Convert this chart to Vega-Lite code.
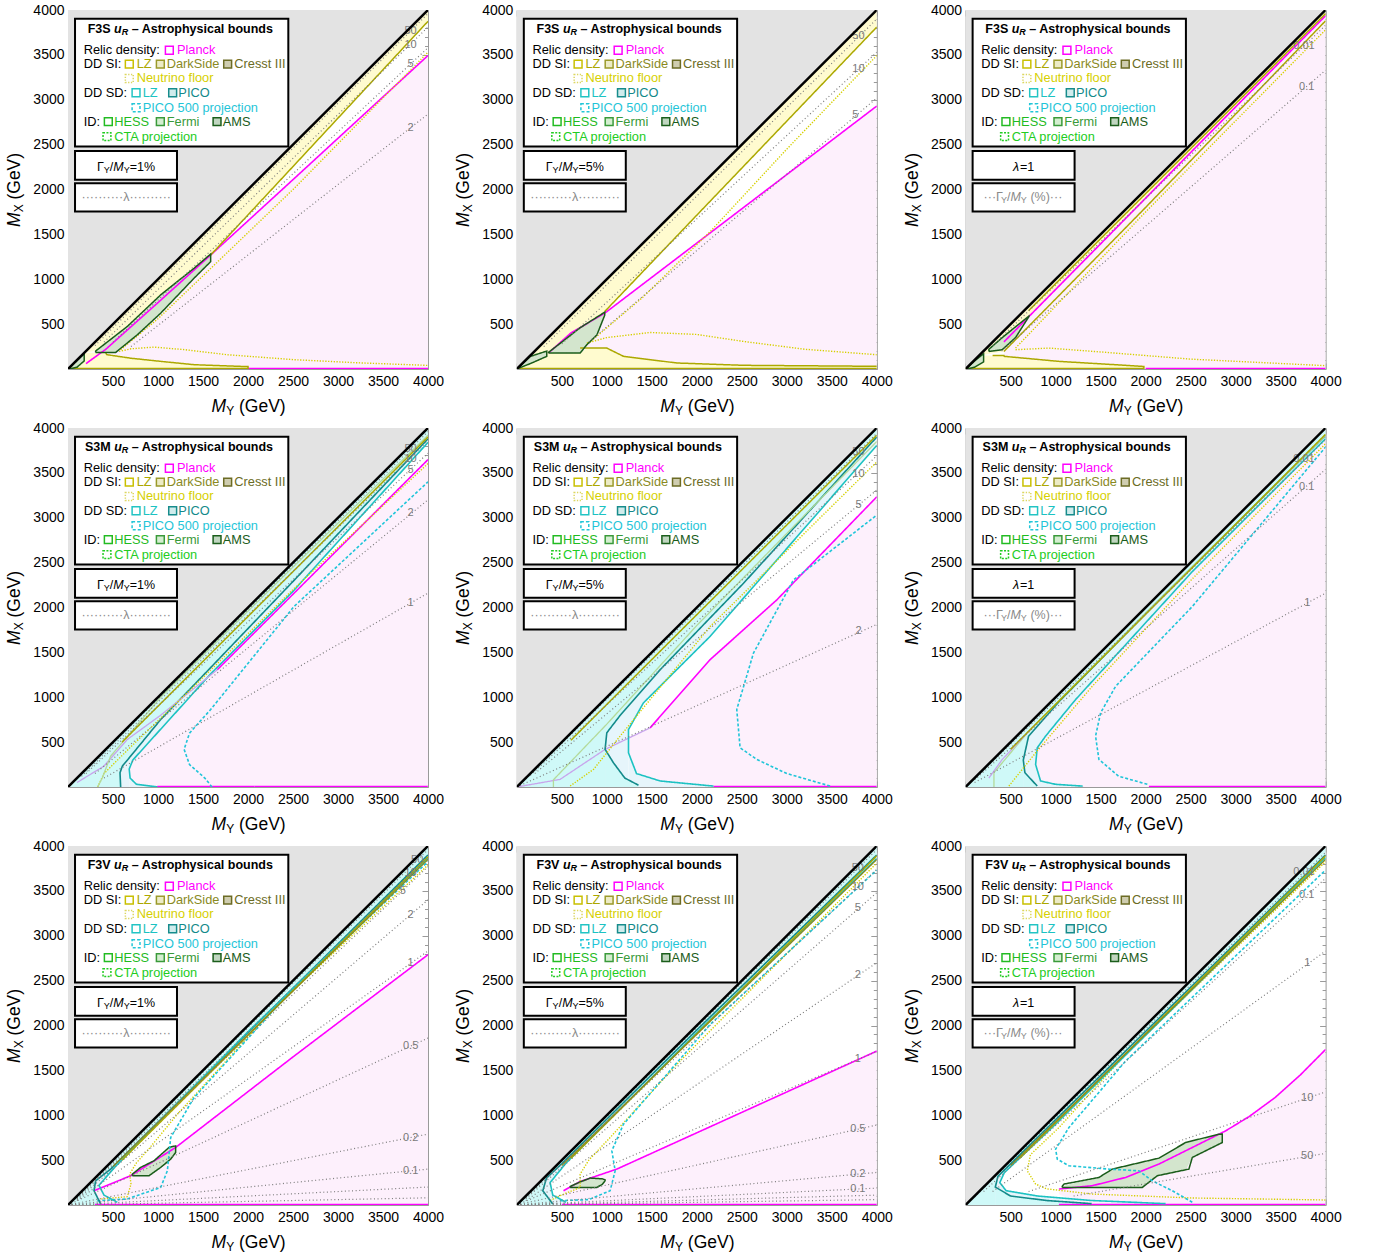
{
"$schema":"https://vega.github.io/schema/vega-lite/v6.json",
"background":"white",
"padding":{"left":5,"top":2,"right":10,"bottom":5},
"config":{"view":{"stroke":"#9a9a9a","strokeWidth":1},"mark":{"invalid":"filter"}},
"data":{"values":[
{"k":"tri","x":0,"p1":0,"p2":0,"p3":0,"p4":0,"p5":0,"p6":0,"p7":0,"p8":0,"p9":0},
{"k":"tri","x":4000,"p1":4000,"p2":4000,"p3":4000,"p4":4000,"p5":4000,"p6":4000,"p7":4000,"p8":4000,"p9":4000},
{"k":"box","x":78,"x2":2448,"lo":2478,"p1":3903,"p2":3903,"p3":3903,"p4":3903,"p5":3903,"p6":3903,"p7":3903,"p8":3903,"p9":3903},
{"k":"box","x":78,"x2":1211,"lo":2108,"p1":2430,"p2":2430,"p3":2430,"p4":2430,"p5":2430,"p6":2430,"p7":2430,"p8":2430,"p9":2430},
{"k":"box","x":78,"x2":1211,"lo":1756,"p1":2070,"p2":2070,"p3":2070,"p4":2070,"p5":2070,"p6":2070,"p7":2070,"p8":2070,"p9":2070},
{"k":"lt","t":"Relic density:","c":"blk","x":174,"p1":3552,"p2":3552,"p3":3552,"p4":3552,"p5":3552,"p6":3552,"p7":3552,"p8":3552,"p9":3552},
{"k":"lt","t":"Planck","c":"Planck","x":1211,"p1":3552,"p2":3552,"p3":3552,"p4":3552,"p5":3552,"p6":3552,"p7":3552,"p8":3552,"p9":3552},
{"k":"lt","t":"DD SI:","c":"blk","x":174,"p1":3397,"p2":3397,"p3":3397,"p4":3397,"p5":3397,"p6":3397,"p7":3397,"p8":3397,"p9":3397},
{"k":"lt","t":"LZ","c":"LZSI","x":763,"p1":3397,"p2":3397,"p3":3397,"p4":3397,"p5":3397,"p6":3397,"p7":3397,"p8":3397,"p9":3397},
{"k":"lt","t":"DarkSide","c":"DS","x":1097,"p1":3397,"p2":3397,"p3":3397,"p4":3397,"p5":3397,"p6":3397,"p7":3397,"p8":3397,"p9":3397},
{"k":"lt","t":"Cresst III","c":"CR","x":1848,"p1":3397,"p2":3397,"p3":3397,"p4":3397,"p5":3397,"p6":3397,"p7":3397,"p8":3397,"p9":3397},
{"k":"lt","t":"Neutrino floor","c":"NF","x":763,"p1":3237,"p2":3237,"p3":3237,"p4":3237,"p5":3237,"p6":3237,"p7":3237,"p8":3237,"p9":3237},
{"k":"lt","t":"DD SD:","c":"blk","x":174,"p1":3078,"p2":3078,"p3":3078,"p4":3078,"p5":3078,"p6":3078,"p7":3078,"p8":3078,"p9":3078},
{"k":"lt","t":"LZ","c":"LZSD","x":830,"p1":3078,"p2":3078,"p3":3078,"p4":3078,"p5":3078,"p6":3078,"p7":3078,"p8":3078,"p9":3078},
{"k":"lt","t":"PICO","c":"PICO","x":1226,"p1":3078,"p2":3078,"p3":3078,"p4":3078,"p5":3078,"p6":3078,"p7":3078,"p8":3078,"p9":3078},
{"k":"lt","t":"PICO 500 projection","c":"P500","x":830,"p1":2911,"p2":2911,"p3":2911,"p4":2911,"p5":2911,"p6":2911,"p7":2911,"p8":2911,"p9":2911},
{"k":"lt","t":"ID:","c":"blk","x":174,"p1":2756,"p2":2756,"p3":2756,"p4":2756,"p5":2756,"p6":2756,"p7":2756,"p8":2756,"p9":2756},
{"k":"lt","t":"HESS","c":"HESS","x":514,"p1":2756,"p2":2756,"p3":2756,"p4":2756,"p5":2756,"p6":2756,"p7":2756,"p8":2756,"p9":2756},
{"k":"lt","t":"Fermi","c":"Fermi","x":1097,"p1":2756,"p2":2756,"p3":2756,"p4":2756,"p5":2756,"p6":2756,"p7":2756,"p8":2756,"p9":2756},
{"k":"lt","t":"AMS","c":"AMS","x":1719,"p1":2756,"p2":2756,"p3":2756,"p4":2756,"p5":2756,"p6":2756,"p7":2756,"p8":2756,"p9":2756},
{"k":"lt","t":"CTA projection","c":"CTA","x":514,"p1":2589,"p2":2589,"p3":2589,"p4":2589,"p5":2589,"p6":2589,"p7":2589,"p8":2589,"p9":2589},
{"k":"lq","c":"Planck","x":1126,"p1":3552,"p2":3552,"p3":3552,"p4":3552,"p5":3552,"p6":3552,"p7":3552,"p8":3552,"p9":3552},
{"k":"lq","c":"LZSI","x":681,"p1":3397,"p2":3397,"p3":3397,"p4":3397,"p5":3397,"p6":3397,"p7":3397,"p8":3397,"p9":3397},
{"k":"lq","c":"DS","x":1026,"p1":3397,"p2":3397,"p3":3397,"p4":3397,"p5":3397,"p6":3397,"p7":3397,"p8":3397,"p9":3397},
{"k":"lq","c":"CR","x":1774,"p1":3397,"p2":3397,"p3":3397,"p4":3397,"p5":3397,"p6":3397,"p7":3397,"p8":3397,"p9":3397},
{"k":"lq","c":"NF","x":681,"p1":3237,"p2":3237,"p3":3237,"p4":3237,"p5":3237,"p6":3237,"p7":3237,"p8":3237,"p9":3237},
{"k":"lq","c":"LZSD","x":756,"p1":3078,"p2":3078,"p3":3078,"p4":3078,"p5":3078,"p6":3078,"p7":3078,"p8":3078,"p9":3078},
{"k":"lq","c":"PICO","x":1163,"p1":3078,"p2":3078,"p3":3078,"p4":3078,"p5":3078,"p6":3078,"p7":3078,"p8":3078,"p9":3078},
{"k":"lq","c":"P500","x":756,"p1":2911,"p2":2911,"p3":2911,"p4":2911,"p5":2911,"p6":2911,"p7":2911,"p8":2911,"p9":2911},
{"k":"lq","c":"HESS","x":448,"p1":2756,"p2":2756,"p3":2756,"p4":2756,"p5":2756,"p6":2756,"p7":2756,"p8":2756,"p9":2756},
{"k":"lq","c":"Fermi","x":1026,"p1":2756,"p2":2756,"p3":2756,"p4":2756,"p5":2756,"p6":2756,"p7":2756,"p8":2756,"p9":2756},
{"k":"lq","c":"AMS","x":1656,"p1":2756,"p2":2756,"p3":2756,"p4":2756,"p5":2756,"p6":2756,"p7":2756,"p8":2756,"p9":2756},
{"k":"lq","c":"CTA","x":433,"p1":2589,"p2":2589,"p3":2589,"p4":2589,"p5":2589,"p6":2589,"p7":2589,"p8":2589,"p9":2589},
{"f":"ai","t":"M","x":1594,"p1":-422,"p2":-422,"p3":-422,"p4":-422,"p5":-422,"p6":-422,"p7":-422,"p8":-422,"p9":-422},
{"f":"as","t":"Y","x":1757,"p1":-422,"p2":-422,"p3":-422,"p4":-422,"p5":-422,"p6":-422,"p7":-422,"p8":-422,"p9":-422},
{"f":"an","t":"(GeV)","x":1900,"p1":-422,"p2":-422,"p3":-422,"p4":-422,"p5":-422,"p6":-422,"p7":-422,"p8":-422,"p9":-422},
{"f":"yi","t":"M","x":-589,"p1":1583,"p2":1583,"p3":1583,"p4":1583,"p5":1583,"p6":1583,"p7":1583,"p8":1583,"p9":1583},
{"f":"ys","t":"X","x":-589,"p1":1746,"p2":1746,"p3":1746,"p4":1746,"p5":1746,"p6":1746,"p7":1746,"p8":1746,"p9":1746},
{"f":"yn","t":"(GeV)","x":-589,"p1":1888,"p2":1888,"p3":1888,"p4":1888,"p5":1888,"p6":1888,"p7":1888,"p8":1888,"p9":1888},
{"f":"b","t":"F3S","x":219,"p1":3792,"p2":3792,"p3":3792},
{"f":"bi","t":"u","x":512,"p1":3792,"p2":3792,"p3":3792},
{"f":"bs","t":"R","x":597,"p1":3792,"p2":3792,"p3":3792},
{"f":"b","t":"– Astrophysical bounds","x":708,"p1":3792,"p2":3792,"p3":3792},
{"f":"b","t":"S3M","x":189,"p4":3792,"p5":3792,"p6":3792},
{"f":"bi","t":"u","x":513,"p4":3792,"p5":3792,"p6":3792},
{"f":"bs","t":"R","x":598,"p4":3792,"p5":3792,"p6":3792},
{"f":"b","t":"– Astrophysical bounds","x":709,"p4":3792,"p5":3792,"p6":3792},
{"f":"b","t":"F3V","x":219,"p7":3792,"p8":3792,"p9":3792},
{"f":"bi","t":"u","x":512,"p7":3792,"p8":3792,"p9":3792},
{"f":"bs","t":"R","x":597,"p7":3792,"p8":3792,"p9":3792},
{"f":"b","t":"– Astrophysical bounds","x":708,"p7":3792,"p8":3792,"p9":3792},
{"f":"n","c":"blk","t":"Γ","x":321,"p1":2256,"p4":2256,"p7":2256,"p2":2256,"p5":2256,"p8":2256},
{"f":"s","c":"blk","t":"Y","x":398,"p1":2256,"p4":2256,"p7":2256,"p2":2256,"p5":2256,"p8":2256},
{"f":"n","c":"blk","t":"/","x":465,"p1":2256,"p4":2256,"p7":2256,"p2":2256,"p5":2256,"p8":2256},
{"f":"i","c":"blk","t":"M","x":504,"p1":2256,"p4":2256,"p7":2256,"p2":2256,"p5":2256,"p8":2256},
{"f":"s","c":"blk","t":"Y","x":619,"p1":2256,"p4":2256,"p7":2256,"p2":2256,"p5":2256,"p8":2256},
{"f":"n","c":"blk","t":"=1%","x":686,"p1":2256,"p4":2256,"p7":2256},
{"f":"n","c":"blk","t":"=5%","x":686,"p2":2256,"p5":2256,"p8":2256},
{"f":"n","c":"gry","t":"··········λ··········","x":150,"p1":1914,"p4":1914,"p7":1914,"p2":1914,"p5":1914,"p8":1914},
{"f":"i","c":"blk","t":"λ","x":527,"p3":2256,"p6":2256,"p9":2256},
{"f":"n","c":"blk","t":"=1","x":604,"p3":2256,"p6":2256,"p9":2256},
{"f":"n","c":"gry","t":"···Γ","x":200,"p3":1914,"p6":1914,"p9":1914},
{"f":"s","c":"gry","t":"Y","x":393,"p3":1914,"p6":1914,"p9":1914},
{"f":"n","c":"gry","t":"/","x":460,"p3":1914,"p6":1914,"p9":1914},
{"f":"i","c":"gry","t":"M","x":499,"p3":1914,"p6":1914,"p9":1914},
{"f":"s","c":"gry","t":"Y","x":614,"p3":1914,"p6":1914,"p9":1914},
{"f":"n","c":"gry","t":"(%)···","x":720,"p3":1914,"p6":1914,"p9":1914},

{"s":"Pink","g":"a","x":420,"p1":220,"lo":180},
{"s":"Pink","g":"a","x":700,"p1":454,"lo":120},
{"s":"Pink","g":"a","x":1030,"p1":758,"lo":85},
{"s":"Pink","g":"a","x":1400,"p1":1098,"lo":48},
{"s":"Pink","g":"a","x":1955,"p1":1609,"lo":28},
{"s":"Pink","g":"a","x":2000,"p1":1650,"lo":28},
{"s":"Pink","g":"a","x":2010,"p1":1659,"lo":0},
{"s":"Pink","g":"a","x":2500,"p1":2110,"lo":0},
{"s":"Pink","g":"a","x":4000,"p1":3493,"lo":0},
{"s":"Yel","g":"a","x":180,"p1":180,"lo":180},
{"s":"Yel","g":"a","x":300,"p1":300,"lo":200},
{"s":"Yel","g":"a","x":1000,"p1":1000,"lo":740},
{"s":"Yel","g":"a","x":1585,"p1":1585,"lo":1270},
{"s":"Yel","g":"a","x":2500,"p1":2500,"lo":2256},
{"s":"Yel","g":"a","x":4000,"p1":4000,"lo":3874},
{"s":"Yel","g":"b","x":0,"p1":0,"lo":0},
{"s":"Yel","g":"b","x":180,"p1":180,"lo":0},
{"s":"Yel","g":"b","x":420,"p1":180,"lo":0},
{"s":"Yel","g":"b","x":430,"p1":160,"lo":0},
{"s":"Yel","g":"b","x":700,"p1":120,"lo":0},
{"s":"Yel","g":"b","x":1030,"p1":85,"lo":0},
{"s":"Yel","g":"b","x":1400,"p1":48,"lo":0},
{"s":"Yel","g":"b","x":1955,"p1":28,"lo":0},
{"s":"Yel","g":"b","x":2000,"p1":28,"lo":0},
{"s":"Grn","g":"a","x":307,"p1":200,"lo":185},
{"s":"Grn","g":"a","x":530,"p1":380,"lo":185},
{"s":"Grn","g":"a","x":659,"p1":474,"lo":290},
{"s":"Grn","g":"a","x":770,"p1":560,"lo":381},
{"s":"Grn","g":"a","x":1030,"p1":826,"lo":622},
{"s":"Grn","g":"a","x":1400,"p1":1122,"lo":1011},
{"s":"Grn","g":"a","x":1585,"p1":1281,"lo":1196},
{"s":"Grn","g":"b","x":20,"p1":15,"lo":0},
{"s":"Grn","g":"b","x":100,"p1":95,"lo":20},
{"s":"Grn","g":"b","x":180,"p1":170,"lo":90},
{"k":"l","s":"Planck","g":"a","x":200,"p1":60},
{"k":"l","s":"Planck","g":"a","x":420,"p1":220},
{"k":"l","s":"Planck","g":"a","x":1000,"p1":740},
{"k":"l","s":"Planck","g":"a","x":1585,"p1":1270},
{"k":"l","s":"Planck","g":"a","x":2500,"p1":2110},
{"k":"l","s":"Planck","g":"a","x":4000,"p1":3493},
{"k":"l","s":"Planck","g":"b","x":2000,"p1":6},
{"k":"l","s":"Planck","g":"b","x":4000,"p1":6},
{"k":"l","s":"LZSI","g":"a","x":1585,"p1":1270},
{"k":"l","s":"LZSI","g":"a","x":2500,"p1":2256},
{"k":"l","s":"LZSI","g":"a","x":4000,"p1":3874},
{"k":"l","s":"LZSI","g":"b","x":420,"p1":180},
{"k":"l","s":"LZSI","g":"b","x":430,"p1":160},
{"k":"l","s":"LZSI","g":"b","x":700,"p1":120},
{"k":"l","s":"LZSI","g":"b","x":1030,"p1":85},
{"k":"l","s":"LZSI","g":"b","x":1400,"p1":48},
{"k":"l","s":"LZSI","g":"b","x":1955,"p1":28},
{"k":"l","s":"LZSI","g":"b","x":2000,"p1":28},
{"k":"l","s":"LZSI","g":"b","x":2000,"p1":0},
{"k":"l","s":"LZSI","g":"c","x":0,"p1":6},
{"k":"l","s":"LZSI","g":"c","x":2000,"p1":6},
{"k":"l","s":"NF","g":"a","x":585,"p1":215},
{"k":"l","s":"NF","g":"a","x":1000,"p1":560},
{"k":"l","s":"NF","g":"a","x":1585,"p1":1120},
{"k":"l","s":"NF","g":"a","x":2500,"p1":2000},
{"k":"l","s":"NF","g":"a","x":4000,"p1":3530},
{"k":"l","s":"NF","g":"b","x":567,"p1":196},
{"k":"l","s":"NF","g":"b","x":700,"p1":225},
{"k":"l","s":"NF","g":"b","x":955,"p1":244},
{"k":"l","s":"NF","g":"b","x":1300,"p1":215},
{"k":"l","s":"NF","g":"b","x":1770,"p1":159},
{"k":"l","s":"NF","g":"b","x":2511,"p1":104},
{"k":"l","s":"NF","g":"b","x":3200,"p1":70},
{"k":"l","s":"NF","g":"b","x":4000,"p1":40},
{"k":"l","s":"AMS","g":"a","x":307,"p1":185},
{"k":"l","s":"AMS","g":"a","x":530,"p1":185},
{"k":"l","s":"AMS","g":"a","x":770,"p1":381},
{"k":"l","s":"AMS","g":"a","x":1030,"p1":622},
{"k":"l","s":"AMS","g":"a","x":1400,"p1":1011},
{"k":"l","s":"AMS","g":"a","x":1585,"p1":1196},
{"k":"l","s":"AMS","g":"a","x":1585,"p1":1281},
{"k":"l","s":"AMS","g":"a","x":1400,"p1":1122},
{"k":"l","s":"AMS","g":"a","x":1030,"p1":826},
{"k":"l","s":"AMS","g":"a","x":659,"p1":474},
{"k":"l","s":"AMS","g":"a","x":307,"p1":200},
{"k":"l","s":"AMS","g":"a","x":307,"p1":185},
{"k":"l","s":"AMS","g":"b","x":20,"p1":0},
{"k":"l","s":"AMS","g":"b","x":100,"p1":20},
{"k":"l","s":"AMS","g":"b","x":180,"p1":90},
{"k":"l","s":"AMS","g":"b","x":180,"p1":170},
{"k":"l","s":"AMS","g":"b","x":100,"p1":95},
{"k":"l","s":"AMS","g":"b","x":20,"p1":15},
{"k":"l","s":"lam","g":"a","x":300,"p1":260},
{"k":"l","s":"lam","g":"a","x":4000,"p1":3960},
{"k":"l","s":"lam","g":"b","x":400,"p1":300},
{"k":"l","s":"lam","g":"b","x":4000,"p1":3810},
{"k":"l","s":"lam","g":"c","x":500,"p1":300},
{"k":"l","s":"lam","g":"c","x":4000,"p1":3580},
{"k":"l","s":"lam","g":"d","x":700,"p1":250},
{"k":"l","s":"lam","g":"d","x":4000,"p1":2840},
{"k":"t","t":"50","x":3807,"p1":3770},
{"k":"t","t":"10","x":3807,"p1":3611},
{"k":"t","t":"5","x":3807,"p1":3400},
{"k":"t","t":"2","x":3807,"p1":2685},

{"s":"Pink","g":"a","x":704,"p2":461,"lo":178},
{"s":"Pink","g":"a","x":780,"p2":506,"lo":233},
{"s":"Pink","g":"a","x":1000,"p2":640,"lo":233},
{"s":"Pink","g":"a","x":1186,"p2":782,"lo":141},
{"s":"Pink","g":"a","x":1780,"p2":1235,"lo":67},
{"s":"Pink","g":"a","x":2520,"p2":1800,"lo":41},
{"s":"Pink","g":"a","x":4000,"p2":2930,"lo":30},
{"s":"Yel","g":"a","x":0,"p2":0,"lo":0},
{"s":"Yel","g":"a","x":352,"p2":352,"lo":185},
{"s":"Yel","g":"a","x":977,"p2":977,"lo":640},
{"s":"Yel","g":"a","x":2000,"p2":2000,"lo":1714},
{"s":"Yel","g":"a","x":4000,"p2":4000,"lo":3810},
{"s":"Yel","g":"b","x":0,"p2":0,"lo":0},
{"s":"Yel","g":"b","x":178,"p2":178,"lo":0},
{"s":"Yel","g":"b","x":704,"p2":178,"lo":0},
{"s":"Yel","g":"b","x":780,"p2":233,"lo":0},
{"s":"Yel","g":"b","x":1000,"p2":233,"lo":0},
{"s":"Yel","g":"b","x":1186,"p2":141,"lo":0},
{"s":"Yel","g":"b","x":1780,"p2":67,"lo":0},
{"s":"Yel","g":"b","x":2520,"p2":41,"lo":0},
{"s":"Yel","g":"b","x":4000,"p2":30,"lo":0},
{"s":"Grn","g":"a","x":352,"p2":185,"lo":178},
{"s":"Grn","g":"a","x":500,"p2":300,"lo":178},
{"s":"Grn","g":"a","x":704,"p2":460,"lo":178},
{"s":"Grn","g":"a","x":778,"p2":520,"lo":270},
{"s":"Grn","g":"a","x":890,"p2":570,"lo":380},
{"s":"Grn","g":"a","x":977,"p2":633,"lo":600},
{"s":"Grn","g":"b","x":0,"p2":0,"lo":0},
{"s":"Grn","g":"b","x":150,"p2":140,"lo":60},
{"s":"Grn","g":"b","x":333,"p2":200,"lo":141},
{"k":"l","s":"Planck","g":"a","x":352,"p2":178},
{"k":"l","s":"Planck","g":"a","x":600,"p2":400},
{"k":"l","s":"Planck","g":"a","x":977,"p2":622},
{"k":"l","s":"Planck","g":"a","x":4000,"p2":2930},
{"k":"l","s":"LZSI","g":"a","x":977,"p2":640},
{"k":"l","s":"LZSI","g":"a","x":2000,"p2":1714},
{"k":"l","s":"LZSI","g":"a","x":4000,"p2":3810},
{"k":"l","s":"LZSI","g":"b","x":704,"p2":233},
{"k":"l","s":"LZSI","g":"b","x":1000,"p2":233},
{"k":"l","s":"LZSI","g":"b","x":1186,"p2":141},
{"k":"l","s":"LZSI","g":"b","x":1778,"p2":67},
{"k":"l","s":"LZSI","g":"b","x":2519,"p2":41},
{"k":"l","s":"LZSI","g":"b","x":4000,"p2":30},
{"k":"l","s":"LZSI","g":"c","x":0,"p2":6},
{"k":"l","s":"LZSI","g":"c","x":4000,"p2":6},
{"k":"l","s":"NF","g":"a","x":778,"p2":270},
{"k":"l","s":"NF","g":"a","x":1400,"p2":800},
{"k":"l","s":"NF","g":"a","x":2148,"p2":1530},
{"k":"l","s":"NF","g":"a","x":3000,"p2":2450},
{"k":"l","s":"NF","g":"a","x":4000,"p2":3493},
{"k":"l","s":"NF","g":"b","x":778,"p2":289},
{"k":"l","s":"NF","g":"b","x":1000,"p2":350},
{"k":"l","s":"NF","g":"b","x":1481,"p2":407},
{"k":"l","s":"NF","g":"b","x":2000,"p2":385},
{"k":"l","s":"NF","g":"b","x":2519,"p2":307},
{"k":"l","s":"NF","g":"b","x":3200,"p2":220},
{"k":"l","s":"NF","g":"b","x":4000,"p2":159},
{"k":"l","s":"AMS","g":"a","x":352,"p2":178},
{"k":"l","s":"AMS","g":"a","x":704,"p2":178},
{"k":"l","s":"AMS","g":"a","x":778,"p2":270},
{"k":"l","s":"AMS","g":"a","x":890,"p2":380},
{"k":"l","s":"AMS","g":"a","x":977,"p2":600},
{"k":"l","s":"AMS","g":"a","x":977,"p2":633},
{"k":"l","s":"AMS","g":"a","x":704,"p2":460},
{"k":"l","s":"AMS","g":"a","x":500,"p2":300},
{"k":"l","s":"AMS","g":"a","x":352,"p2":185},
{"k":"l","s":"AMS","g":"a","x":352,"p2":178},
{"k":"l","s":"AMS","g":"b","x":0,"p2":0},
{"k":"l","s":"AMS","g":"b","x":150,"p2":60},
{"k":"l","s":"AMS","g":"b","x":333,"p2":141},
{"k":"l","s":"AMS","g":"b","x":333,"p2":200},
{"k":"l","s":"AMS","g":"b","x":150,"p2":140},
{"k":"l","s":"AMS","g":"b","x":0,"p2":0},
{"k":"l","s":"lam","g":"a","x":300,"p2":250},
{"k":"l","s":"lam","g":"a","x":4000,"p2":3900},
{"k":"l","s":"lam","g":"b","x":500,"p2":280},
{"k":"l","s":"lam","g":"b","x":4000,"p2":3530},
{"k":"l","s":"lam","g":"c","x":800,"p2":300},
{"k":"l","s":"lam","g":"c","x":4000,"p2":3020},
{"k":"t","t":"50","x":3796,"p2":3715},
{"k":"t","t":"10","x":3796,"p2":3344},
{"k":"t","t":"5","x":3760,"p2":2826},

{"s":"Pink","g":"a","x":426,"p3":302,"lo":150},
{"s":"Pink","g":"a","x":600,"p3":480,"lo":110},
{"s":"Pink","g":"a","x":704,"p3":585,"lo":100},
{"s":"Pink","g":"a","x":1037,"p3":924,"lo":85},
{"s":"Pink","g":"a","x":1778,"p3":1678,"lo":41},
{"s":"Pink","g":"a","x":1981,"p3":1885,"lo":28},
{"s":"Pink","g":"a","x":1990,"p3":1894,"lo":0},
{"s":"Pink","g":"a","x":4000,"p3":3937,"lo":0},
{"s":"Yel","g":"a","x":0,"p3":0,"lo":0},
{"s":"Yel","g":"a","x":150,"p3":150,"lo":150},
{"s":"Yel","g":"a","x":426,"p3":426,"lo":196},
{"s":"Yel","g":"a","x":1000,"p3":1000,"lo":780},
{"s":"Yel","g":"a","x":2000,"p3":2000,"lo":1800},
{"s":"Yel","g":"a","x":4000,"p3":4000,"lo":3880},
{"s":"Yel","g":"b","x":0,"p3":0,"lo":0},
{"s":"Yel","g":"b","x":150,"p3":150,"lo":0},
{"s":"Yel","g":"b","x":426,"p3":150,"lo":0},
{"s":"Yel","g":"b","x":430,"p3":141,"lo":0},
{"s":"Yel","g":"b","x":1037,"p3":85,"lo":0},
{"s":"Yel","g":"b","x":1778,"p3":41,"lo":0},
{"s":"Yel","g":"b","x":1981,"p3":28,"lo":0},
{"s":"Grn","g":"a","x":259,"p3":220,"lo":196},
{"s":"Grn","g":"a","x":407,"p3":350,"lo":215},
{"s":"Grn","g":"a","x":555,"p3":470,"lo":350},
{"s":"Grn","g":"a","x":704,"p3":590,"lo":585},
{"s":"Grn","g":"b","x":20,"p3":15,"lo":0},
{"s":"Grn","g":"b","x":100,"p3":90,"lo":20},
{"s":"Grn","g":"b","x":200,"p3":170,"lo":80},
{"k":"l","s":"Planck","g":"a","x":426,"p3":302},
{"k":"l","s":"Planck","g":"a","x":704,"p3":585},
{"k":"l","s":"Planck","g":"a","x":2000,"p3":1903},
{"k":"l","s":"Planck","g":"a","x":4000,"p3":3937},
{"k":"l","s":"Planck","g":"b","x":2000,"p3":6},
{"k":"l","s":"Planck","g":"b","x":4000,"p3":6},
{"k":"l","s":"LZSI","g":"a","x":426,"p3":196},
{"k":"l","s":"LZSI","g":"a","x":1000,"p3":780},
{"k":"l","s":"LZSI","g":"a","x":2000,"p3":1800},
{"k":"l","s":"LZSI","g":"a","x":4000,"p3":3880},
{"k":"l","s":"LZSI","g":"b","x":300,"p3":150},
{"k":"l","s":"LZSI","g":"b","x":426,"p3":150},
{"k":"l","s":"LZSI","g":"b","x":430,"p3":141},
{"k":"l","s":"LZSI","g":"b","x":1037,"p3":85},
{"k":"l","s":"LZSI","g":"b","x":1778,"p3":41},
{"k":"l","s":"LZSI","g":"b","x":1981,"p3":28},
{"k":"l","s":"LZSI","g":"b","x":1981,"p3":0},
{"k":"l","s":"LZSI","g":"c","x":0,"p3":6},
{"k":"l","s":"LZSI","g":"c","x":1981,"p3":6},
{"k":"l","s":"LZSI","g":"d","x":700,"p3":650},
{"k":"l","s":"LZSI","g":"d","x":4000,"p3":3960},
{"k":"l","s":"NF","g":"a","x":555,"p3":233},
{"k":"l","s":"NF","g":"a","x":1000,"p3":700},
{"k":"l","s":"NF","g":"a","x":2000,"p3":1750},
{"k":"l","s":"NF","g":"a","x":4000,"p3":3780},
{"k":"l","s":"NF","g":"b","x":555,"p3":215},
{"k":"l","s":"NF","g":"b","x":926,"p3":233},
{"k":"l","s":"NF","g":"b","x":1500,"p3":190},
{"k":"l","s":"NF","g":"b","x":2500,"p3":110},
{"k":"l","s":"NF","g":"b","x":4000,"p3":37},
{"k":"l","s":"AMS","g":"a","x":259,"p3":196},
{"k":"l","s":"AMS","g":"a","x":407,"p3":215},
{"k":"l","s":"AMS","g":"a","x":555,"p3":350},
{"k":"l","s":"AMS","g":"a","x":704,"p3":585},
{"k":"l","s":"AMS","g":"a","x":704,"p3":590},
{"k":"l","s":"AMS","g":"a","x":555,"p3":470},
{"k":"l","s":"AMS","g":"a","x":407,"p3":350},
{"k":"l","s":"AMS","g":"a","x":259,"p3":220},
{"k":"l","s":"AMS","g":"a","x":259,"p3":196},
{"k":"l","s":"AMS","g":"b","x":20,"p3":0},
{"k":"l","s":"AMS","g":"b","x":100,"p3":20},
{"k":"l","s":"AMS","g":"b","x":200,"p3":80},
{"k":"l","s":"AMS","g":"b","x":200,"p3":170},
{"k":"l","s":"AMS","g":"b","x":100,"p3":90},
{"k":"l","s":"AMS","g":"b","x":20,"p3":15},
{"k":"l","s":"lam","g":"a","x":300,"p3":260},
{"k":"l","s":"lam","g":"a","x":4000,"p3":3830},
{"k":"l","s":"lam","g":"b","x":400,"p3":200},
{"k":"l","s":"lam","g":"b","x":4000,"p3":3330},
{"k":"t","t":"0.01","x":3760,"p3":3604},
{"k":"t","t":"0.1","x":3790,"p3":3141},

{"s":"CyB","g":"a","x":0,"p4":0,"lo":0},
{"s":"CyB","g":"a","x":680,"p4":680,"lo":0},
{"s":"CyB","g":"b","x":680,"p4":200,"lo":0},
{"s":"CyB","g":"b","x":690,"p4":100,"lo":0},
{"s":"CyB","g":"b","x":760,"p4":30,"lo":0},
{"s":"CyB","g":"b","x":1000,"p4":0,"lo":0},
{"s":"CyB","g":"c","x":680,"p4":680,"lo":200},
{"s":"CyB","g":"c","x":720,"p4":720,"lo":300},
{"s":"CyB","g":"c","x":900,"p4":900,"lo":500},
{"s":"CyB","g":"c","x":1585,"p4":1585,"lo":1260},
{"s":"CyB","g":"c","x":2500,"p4":2500,"lo":2180},
{"s":"CyB","g":"c","x":4000,"p4":4000,"lo":3840},
{"s":"Pink","g":"a","x":680,"p4":200,"lo":200},
{"s":"Pink","g":"a","x":700,"p4":250,"lo":90},
{"s":"Pink","g":"a","x":760,"p4":344,"lo":30},
{"s":"Pink","g":"a","x":900,"p4":500,"lo":8},
{"s":"Pink","g":"a","x":1000,"p4":611,"lo":0},
{"s":"Pink","g":"a","x":1585,"p4":1233,"lo":0},
{"s":"Pink","g":"a","x":1659,"p4":1307,"lo":0},
{"s":"Pink","g":"a","x":2500,"p4":2148,"lo":0},
{"s":"Pink","g":"a","x":4000,"p4":3648,"lo":0},
{"s":"CyA","g":"a","x":0,"p4":0,"lo":0},
{"s":"CyA","g":"a","x":590,"p4":590,"lo":0},
{"s":"CyA","g":"b","x":590,"p4":590,"lo":200},
{"s":"CyA","g":"b","x":604,"p4":604,"lo":233},
{"s":"CyA","g":"b","x":696,"p4":696,"lo":344},
{"s":"CyA","g":"b","x":1030,"p4":1030,"lo":752},
{"s":"CyA","g":"b","x":1585,"p4":1585,"lo":1330},
{"s":"CyA","g":"b","x":2500,"p4":2500,"lo":2290},
{"s":"CyA","g":"b","x":4000,"p4":4000,"lo":3880},
{"k":"l","s":"PICO","g":"a","x":585,"p4":0},
{"k":"l","s":"PICO","g":"a","x":578,"p4":159},
{"k":"l","s":"PICO","g":"a","x":604,"p4":233},
{"k":"l","s":"PICO","g":"a","x":696,"p4":344},
{"k":"l","s":"PICO","g":"a","x":1030,"p4":752},
{"k":"l","s":"PICO","g":"a","x":1585,"p4":1330},
{"k":"l","s":"PICO","g":"a","x":2500,"p4":2290},
{"k":"l","s":"PICO","g":"a","x":4000,"p4":3880},
{"k":"l","s":"LZSD","g":"a","x":1000,"p4":0},
{"k":"l","s":"LZSD","g":"a","x":760,"p4":30},
{"k":"l","s":"LZSD","g":"a","x":690,"p4":100},
{"k":"l","s":"LZSD","g":"a","x":680,"p4":200},
{"k":"l","s":"LZSD","g":"a","x":720,"p4":300},
{"k":"l","s":"LZSD","g":"a","x":900,"p4":500},
{"k":"l","s":"LZSD","g":"a","x":1585,"p4":1260},
{"k":"l","s":"LZSD","g":"a","x":2500,"p4":2180},
{"k":"l","s":"LZSD","g":"a","x":4000,"p4":3840},
{"k":"l","s":"Planck","g":"a","x":1659,"p4":1307},
{"k":"l","s":"Planck","g":"a","x":2500,"p4":2148},
{"k":"l","s":"Planck","g":"a","x":4000,"p4":3648},
{"k":"l","s":"PlanckL","g":"a","x":100,"p4":50},
{"k":"l","s":"PlanckL","g":"a","x":400,"p4":233},
{"k":"l","s":"PlanckL","g":"a","x":659,"p4":530},
{"k":"l","s":"PlanckL","g":"a","x":1030,"p4":800},
{"k":"l","s":"PlanckL","g":"a","x":1659,"p4":1307},
{"k":"l","s":"Planck","g":"b","x":993,"p4":6},
{"k":"l","s":"Planck","g":"b","x":4000,"p4":6},
{"k":"l","s":"P500","g":"a","x":1600,"p4":0},
{"k":"l","s":"P500","g":"a","x":1520,"p4":100},
{"k":"l","s":"P500","g":"a","x":1350,"p4":250},
{"k":"l","s":"P500","g":"a","x":1290,"p4":420},
{"k":"l","s":"P500","g":"a","x":1350,"p4":600},
{"k":"l","s":"P500","g":"a","x":1585,"p4":863},
{"k":"l","s":"P500","g":"a","x":2511,"p4":2011},
{"k":"l","s":"P500","g":"a","x":4000,"p4":3400},
{"k":"l","s":"NF","g":"a","x":330,"p4":0},
{"k":"l","s":"NF","g":"a","x":400,"p4":150},
{"k":"l","s":"NF","g":"a","x":700,"p4":450},
{"k":"l","s":"NF","g":"a","x":1400,"p4":1122},
{"k":"l","s":"NF","g":"a","x":2500,"p4":2200},
{"k":"l","s":"NF","g":"a","x":4000,"p4":3604},
{"k":"l","s":"FermiL","g":"a","x":330,"p4":0},
{"k":"l","s":"FermiL","g":"a","x":380,"p4":100},
{"k":"l","s":"FermiL","g":"a","x":474,"p4":344},
{"k":"l","s":"FermiL","g":"a","x":1030,"p4":1000},
{"k":"l","s":"FermiL","g":"a","x":2000,"p4":1960},
{"k":"l","s":"FermiL","g":"a","x":4000,"p4":3920},
{"k":"l","s":"LZSI","g":"a","x":600,"p4":500},
{"k":"l","s":"LZSI","g":"a","x":4000,"p4":3900},
{"k":"l","s":"lam","g":"a","x":100,"p4":90},
{"k":"l","s":"lam","g":"a","x":4000,"p4":3960},
{"k":"l","s":"lam","g":"b","x":150,"p4":120},
{"k":"l","s":"lam","g":"b","x":4000,"p4":3860},
{"k":"l","s":"lam","g":"c","x":200,"p4":150},
{"k":"l","s":"lam","g":"c","x":4000,"p4":3720},
{"k":"l","s":"lam","g":"d","x":300,"p4":150},
{"k":"l","s":"lam","g":"d","x":4000,"p4":3200},
{"k":"l","s":"lam","g":"e","x":400,"p4":100},
{"k":"l","s":"lam","g":"e","x":4000,"p4":2160},
{"k":"t","t":"50","x":3807,"p4":3770},
{"k":"t","t":"10","x":3807,"p4":3659},
{"k":"t","t":"5","x":3807,"p4":3530},
{"k":"t","t":"2","x":3807,"p4":3048},
{"k":"t","t":"1","x":3807,"p4":2048},

{"s":"CyB","g":"a","x":0,"p5":0,"lo":0},
{"s":"CyB","g":"a","x":1240,"p5":1240,"lo":0},
{"s":"CyB","g":"a","x":1241,"p5":1241,"lo":640},
{"s":"CyB","g":"a","x":1407,"p5":1407,"lo":937},
{"s":"CyB","g":"a","x":2148,"p5":2148,"lo":1678},
{"s":"CyB","g":"a","x":4000,"p5":4000,"lo":3807},
{"s":"CyB","g":"b","x":1241,"p5":381,"lo":0},
{"s":"CyB","g":"b","x":1330,"p5":150,"lo":0},
{"s":"CyB","g":"b","x":1593,"p5":67,"lo":0},
{"s":"CyB","g":"b","x":2185,"p5":10,"lo":0},
{"s":"Pink","g":"a","x":1241,"p5":544,"lo":400},
{"s":"Pink","g":"a","x":1330,"p5":588,"lo":150},
{"s":"Pink","g":"a","x":1481,"p5":659,"lo":90},
{"s":"Pink","g":"a","x":1593,"p5":787,"lo":67},
{"s":"Pink","g":"a","x":2148,"p5":1419,"lo":12},
{"s":"Pink","g":"a","x":2185,"p5":1450,"lo":0},
{"s":"Pink","g":"a","x":2889,"p5":2085,"lo":0},
{"s":"Pink","g":"a","x":4000,"p5":3233,"lo":0},
{"s":"CyA","g":"a","x":0,"p5":0,"lo":0},
{"s":"CyA","g":"a","x":981,"p5":981,"lo":0},
{"s":"CyA","g":"b","x":981,"p5":419,"lo":0},
{"s":"CyA","g":"b","x":1074,"p5":270,"lo":0},
{"s":"CyA","g":"b","x":1200,"p5":100,"lo":0},
{"s":"CyA","g":"b","x":1352,"p5":20,"lo":0},
{"s":"CyA","g":"c","x":981,"p5":981,"lo":419},
{"s":"CyA","g":"c","x":1000,"p5":1000,"lo":604},
{"s":"CyA","g":"c","x":1150,"p5":1150,"lo":800},
{"s":"CyA","g":"c","x":1593,"p5":1593,"lo":1307},
{"s":"CyA","g":"c","x":2519,"p5":2519,"lo":2270},
{"s":"CyA","g":"c","x":4000,"p5":4000,"lo":3900},
{"k":"l","s":"Planck","g":"a","x":1481,"p5":659},
{"k":"l","s":"Planck","g":"a","x":2148,"p5":1419},
{"k":"l","s":"Planck","g":"a","x":2889,"p5":2085},
{"k":"l","s":"Planck","g":"a","x":4000,"p5":3233},
{"k":"l","s":"PlanckL","g":"a","x":0,"p5":0},
{"k":"l","s":"PlanckL","g":"a","x":481,"p5":85},
{"k":"l","s":"PlanckL","g":"a","x":981,"p5":419},
{"k":"l","s":"PlanckL","g":"a","x":1481,"p5":659},
{"k":"l","s":"Planck","g":"b","x":2185,"p5":6},
{"k":"l","s":"Planck","g":"b","x":4000,"p5":6},
{"k":"l","s":"PICO","g":"a","x":1352,"p5":20},
{"k":"l","s":"PICO","g":"a","x":1200,"p5":100},
{"k":"l","s":"PICO","g":"a","x":1074,"p5":270},
{"k":"l","s":"PICO","g":"a","x":981,"p5":419},
{"k":"l","s":"PICO","g":"a","x":1000,"p5":604},
{"k":"l","s":"PICO","g":"a","x":1150,"p5":800},
{"k":"l","s":"PICO","g":"a","x":1593,"p5":1307},
{"k":"l","s":"PICO","g":"a","x":2519,"p5":2270},
{"k":"l","s":"PICO","g":"a","x":4000,"p5":3900},
{"k":"l","s":"LZSD","g":"a","x":2185,"p5":10},
{"k":"l","s":"LZSD","g":"a","x":1593,"p5":67},
{"k":"l","s":"LZSD","g":"a","x":1330,"p5":150},
{"k":"l","s":"LZSD","g":"a","x":1241,"p5":381},
{"k":"l","s":"LZSD","g":"a","x":1241,"p5":640},
{"k":"l","s":"LZSD","g":"a","x":1407,"p5":937},
{"k":"l","s":"LZSD","g":"a","x":2148,"p5":1678},
{"k":"l","s":"LZSD","g":"a","x":4000,"p5":3807},
{"k":"l","s":"P500","g":"a","x":3481,"p5":11},
{"k":"l","s":"P500","g":"a","x":3000,"p5":150},
{"k":"l","s":"P500","g":"a","x":2667,"p5":307},
{"k":"l","s":"P500","g":"a","x":2481,"p5":437},
{"k":"l","s":"P500","g":"a","x":2444,"p5":863},
{"k":"l","s":"P500","g":"a","x":2630,"p5":1493},
{"k":"l","s":"P500","g":"a","x":3074,"p5":2307},
{"k":"l","s":"P500","g":"a","x":4000,"p5":3030},
{"k":"l","s":"NF","g":"a","x":593,"p5":11},
{"k":"l","s":"NF","g":"a","x":852,"p5":196},
{"k":"l","s":"NF","g":"a","x":1148,"p5":567},
{"k":"l","s":"NF","g":"a","x":2148,"p5":1789},
{"k":"l","s":"NF","g":"a","x":4000,"p5":3622},
{"k":"l","s":"FermiL","g":"a","x":407,"p5":0},
{"k":"l","s":"FermiL","g":"a","x":407,"p5":80},
{"k":"l","s":"FermiL","g":"a","x":1000,"p5":700},
{"k":"l","s":"FermiL","g":"a","x":2000,"p5":1800},
{"k":"l","s":"FermiL","g":"a","x":4000,"p5":3850},
{"k":"l","s":"LZSI","g":"a","x":600,"p5":520},
{"k":"l","s":"LZSI","g":"a","x":4000,"p5":3920},
{"k":"l","s":"lam","g":"a","x":100,"p5":90},
{"k":"l","s":"lam","g":"a","x":4000,"p5":3940},
{"k":"l","s":"lam","g":"b","x":150,"p5":130},
{"k":"l","s":"lam","g":"b","x":4000,"p5":3690},
{"k":"l","s":"lam","g":"c","x":200,"p5":150},
{"k":"l","s":"lam","g":"c","x":4000,"p5":3310},
{"k":"l","s":"lam","g":"d","x":0,"p5":0},
{"k":"l","s":"lam","g":"d","x":4000,"p5":1812},
{"k":"t","t":"50","x":3796,"p5":3733},
{"k":"t","t":"10","x":3796,"p5":3493},
{"k":"t","t":"5","x":3796,"p5":3141},
{"k":"t","t":"2","x":3796,"p5":1733},

{"s":"CyB","g":"a","x":0,"p6":0,"lo":0},
{"s":"CyB","g":"a","x":778,"p6":778,"lo":0},
{"s":"CyB","g":"a","x":796,"p6":796,"lo":437},
{"s":"CyB","g":"a","x":889,"p6":889,"lo":567},
{"s":"CyB","g":"a","x":1222,"p6":1222,"lo":974},
{"s":"CyB","g":"a","x":2519,"p6":2519,"lo":2400},
{"s":"CyB","g":"a","x":4000,"p6":4000,"lo":3881},
{"s":"CyB","g":"b","x":778,"p6":250,"lo":0},
{"s":"CyB","g":"b","x":833,"p6":67,"lo":0},
{"s":"CyB","g":"b","x":1000,"p6":30,"lo":0},
{"s":"CyB","g":"b","x":1300,"p6":10,"lo":0},
{"s":"Pink","g":"a","x":778,"p6":250,"lo":250},
{"s":"Pink","g":"a","x":796,"p6":437,"lo":190},
{"s":"Pink","g":"a","x":833,"p6":489,"lo":67},
{"s":"Pink","g":"a","x":889,"p6":567,"lo":50},
{"s":"Pink","g":"a","x":1000,"p6":700,"lo":30},
{"s":"Pink","g":"a","x":1222,"p6":974,"lo":20},
{"s":"Pink","g":"a","x":1300,"p6":1070,"lo":10},
{"s":"Pink","g":"a","x":1310,"p6":1080,"lo":0},
{"s":"Pink","g":"a","x":2519,"p6":2400,"lo":0},
{"s":"Pink","g":"a","x":4000,"p6":3881,"lo":0},
{"s":"CyA","g":"a","x":0,"p6":0,"lo":0},
{"s":"CyA","g":"a","x":641,"p6":641,"lo":0},
{"s":"CyA","g":"b","x":641,"p6":300,"lo":0},
{"s":"CyA","g":"b","x":659,"p6":159,"lo":0},
{"s":"CyA","g":"b","x":796,"p6":11,"lo":0},
{"s":"CyA","g":"c","x":641,"p6":641,"lo":300},
{"s":"CyA","g":"c","x":700,"p6":700,"lo":567},
{"s":"CyA","g":"c","x":1037,"p6":1037,"lo":950},
{"s":"CyA","g":"c","x":2148,"p6":2148,"lo":2080},
{"s":"CyA","g":"c","x":4000,"p6":4000,"lo":3919},
{"k":"l","s":"PICO","g":"a","x":796,"p6":11},
{"k":"l","s":"PICO","g":"a","x":659,"p6":159},
{"k":"l","s":"PICO","g":"a","x":641,"p6":300},
{"k":"l","s":"PICO","g":"a","x":700,"p6":567},
{"k":"l","s":"PICO","g":"a","x":1037,"p6":950},
{"k":"l","s":"PICO","g":"a","x":2148,"p6":2080},
{"k":"l","s":"PICO","g":"a","x":4000,"p6":3919},
{"k":"l","s":"LZSD","g":"a","x":1300,"p6":10},
{"k":"l","s":"LZSD","g":"a","x":1000,"p6":30},
{"k":"l","s":"LZSD","g":"a","x":833,"p6":67},
{"k":"l","s":"LZSD","g":"a","x":778,"p6":250},
{"k":"l","s":"LZSD","g":"a","x":796,"p6":437},
{"k":"l","s":"LZSD","g":"a","x":889,"p6":567},
{"k":"l","s":"LZSD","g":"a","x":1222,"p6":974},
{"k":"l","s":"LZSD","g":"a","x":2519,"p6":2400},
{"k":"l","s":"LZSD","g":"a","x":4000,"p6":3881},
{"k":"l","s":"P500","g":"a","x":2019,"p6":30},
{"k":"l","s":"P500","g":"a","x":1700,"p6":120},
{"k":"l","s":"P500","g":"a","x":1481,"p6":307},
{"k":"l","s":"P500","g":"a","x":1444,"p6":567},
{"k":"l","s":"P500","g":"a","x":1500,"p6":826},
{"k":"l","s":"P500","g":"a","x":1667,"p6":1122},
{"k":"l","s":"P500","g":"a","x":2519,"p6":2011},
{"k":"l","s":"P500","g":"a","x":4000,"p6":3789},
{"k":"l","s":"NF","g":"a","x":481,"p6":11},
{"k":"l","s":"NF","g":"a","x":778,"p6":381},
{"k":"l","s":"NF","g":"a","x":1407,"p6":1122},
{"k":"l","s":"NF","g":"a","x":2500,"p6":2300},
{"k":"l","s":"NF","g":"a","x":4000,"p6":3826},
{"k":"l","s":"FermiL","g":"a","x":315,"p6":0},
{"k":"l","s":"FermiL","g":"a","x":315,"p6":159},
{"k":"l","s":"FermiL","g":"a","x":700,"p6":620},
{"k":"l","s":"FermiL","g":"a","x":2000,"p6":1940},
{"k":"l","s":"FermiL","g":"a","x":4000,"p6":3920},
{"k":"l","s":"PlanckL","g":"a","x":259,"p6":100},
{"k":"l","s":"PlanckL","g":"a","x":407,"p6":307},
{"k":"l","s":"PlanckL","g":"a","x":778,"p6":700},
{"k":"l","s":"Planck","g":"b","x":2037,"p6":6},
{"k":"l","s":"Planck","g":"b","x":4000,"p6":6},
{"k":"l","s":"LZSI","g":"a","x":500,"p6":420},
{"k":"l","s":"LZSI","g":"a","x":4000,"p6":3930},
{"k":"l","s":"lam","g":"a","x":100,"p6":90},
{"k":"l","s":"lam","g":"a","x":4000,"p6":3870},
{"k":"l","s":"lam","g":"b","x":100,"p6":80},
{"k":"l","s":"lam","g":"b","x":4000,"p6":3540},
{"k":"l","s":"lam","g":"c","x":100,"p6":50},
{"k":"l","s":"lam","g":"c","x":4000,"p6":2160},
{"k":"t","t":"0.01","x":3760,"p6":3659},
{"k":"t","t":"0.1","x":3790,"p6":3344},
{"k":"t","t":"1","x":3796,"p6":2048},

{"s":"CyB","g":"a","x":0,"p7":0,"lo":0},
{"s":"CyB","g":"a","x":344,"p7":344,"lo":0},
{"s":"CyB","g":"b","x":344,"p7":220,"lo":0},
{"s":"CyB","g":"b","x":400,"p7":110,"lo":0},
{"s":"CyB","g":"b","x":548,"p7":30,"lo":0},
{"s":"CyB","g":"c","x":344,"p7":344,"lo":220},
{"s":"CyB","g":"c","x":519,"p7":519,"lo":420},
{"s":"CyB","g":"c","x":2000,"p7":2000,"lo":1930},
{"s":"CyB","g":"c","x":4000,"p7":4000,"lo":3863},
{"s":"Pink","g":"a","x":289,"p7":159,"lo":100},
{"s":"Pink","g":"a","x":400,"p7":205,"lo":0},
{"s":"Pink","g":"a","x":696,"p7":326,"lo":0},
{"s":"Pink","g":"a","x":1196,"p7":641,"lo":0},
{"s":"Pink","g":"a","x":2500,"p7":1650,"lo":0},
{"s":"Pink","g":"a","x":4000,"p7":2789,"lo":0},
{"s":"CyA","g":"a","x":0,"p7":0,"lo":0},
{"s":"CyA","g":"a","x":289,"p7":289,"lo":0},
{"s":"CyA","g":"b","x":289,"p7":159,"lo":0},
{"s":"CyA","g":"b","x":363,"p7":11,"lo":0},
{"s":"CyA","g":"c","x":289,"p7":289,"lo":159},
{"s":"CyA","g":"c","x":307,"p7":307,"lo":270},
{"s":"CyA","g":"c","x":474,"p7":474,"lo":400},
{"s":"CyA","g":"c","x":2141,"p7":2141,"lo":2060},
{"s":"CyA","g":"c","x":4000,"p7":4000,"lo":3900},
{"s":"Grn","g":"a","x":715,"p7":344,"lo":326},
{"s":"Grn","g":"a","x":807,"p7":419,"lo":326},
{"s":"Grn","g":"a","x":900,"p7":460,"lo":326},
{"s":"Grn","g":"a","x":956,"p7":493,"lo":370},
{"s":"Grn","g":"a","x":1030,"p7":540,"lo":419},
{"s":"Grn","g":"a","x":1122,"p7":641,"lo":480},
{"s":"Grn","g":"a","x":1141,"p7":645,"lo":511},
{"s":"Grn","g":"a","x":1196,"p7":659,"lo":585},
{"k":"l","s":"Planck","g":"a","x":289,"p7":159},
{"k":"l","s":"Planck","g":"a","x":696,"p7":326},
{"k":"l","s":"Planck","g":"a","x":1196,"p7":641},
{"k":"l","s":"Planck","g":"a","x":2500,"p7":1650},
{"k":"l","s":"Planck","g":"a","x":4000,"p7":2789},
{"k":"l","s":"Planck","g":"b","x":300,"p7":6},
{"k":"l","s":"Planck","g":"b","x":4000,"p7":6},
{"k":"l","s":"AMS","g":"a","x":715,"p7":326},
{"k":"l","s":"AMS","g":"a","x":900,"p7":326},
{"k":"l","s":"AMS","g":"a","x":1030,"p7":419},
{"k":"l","s":"AMS","g":"a","x":1141,"p7":511},
{"k":"l","s":"AMS","g":"a","x":1196,"p7":585},
{"k":"l","s":"AMS","g":"a","x":1196,"p7":659},
{"k":"l","s":"AMS","g":"a","x":1122,"p7":641},
{"k":"l","s":"AMS","g":"a","x":956,"p7":493},
{"k":"l","s":"AMS","g":"a","x":807,"p7":419},
{"k":"l","s":"AMS","g":"a","x":715,"p7":344},
{"k":"l","s":"AMS","g":"a","x":715,"p7":326},
{"k":"l","s":"NF","g":"a","x":370,"p7":67},
{"k":"l","s":"NF","g":"a","x":659,"p7":93},
{"k":"l","s":"NF","g":"a","x":700,"p7":233},
{"k":"l","s":"NF","g":"a","x":685,"p7":344},
{"k":"l","s":"NF","g":"a","x":760,"p7":470},
{"k":"l","s":"NF","g":"a","x":881,"p7":604},
{"k":"l","s":"NF","g":"a","x":1215,"p7":1011},
{"k":"l","s":"NF","g":"a","x":2300,"p7":2200},
{"k":"l","s":"NF","g":"a","x":4000,"p7":3789},
{"k":"l","s":"P500","g":"a","x":326,"p7":48},
{"k":"l","s":"P500","g":"a","x":659,"p7":67},
{"k":"l","s":"P500","g":"a","x":1030,"p7":196},
{"k":"l","s":"P500","g":"a","x":1104,"p7":381},
{"k":"l","s":"P500","g":"a","x":1141,"p7":752},
{"k":"l","s":"P500","g":"a","x":1400,"p7":1196},
{"k":"l","s":"P500","g":"a","x":2511,"p7":2419},
{"k":"l","s":"P500","g":"a","x":4000,"p7":3826},
{"k":"l","s":"PICO","g":"a","x":363,"p7":11},
{"k":"l","s":"PICO","g":"a","x":289,"p7":159},
{"k":"l","s":"PICO","g":"a","x":307,"p7":270},
{"k":"l","s":"PICO","g":"a","x":474,"p7":400},
{"k":"l","s":"PICO","g":"a","x":2141,"p7":2060},
{"k":"l","s":"PICO","g":"a","x":4000,"p7":3900},
{"k":"l","s":"LZSD","g":"a","x":548,"p7":30},
{"k":"l","s":"LZSD","g":"a","x":400,"p7":110},
{"k":"l","s":"LZSD","g":"a","x":344,"p7":220},
{"k":"l","s":"LZSD","g":"a","x":519,"p7":420},
{"k":"l","s":"LZSD","g":"a","x":2000,"p7":1930},
{"k":"l","s":"LZSD","g":"a","x":4000,"p7":3863},
{"k":"l","s":"LZSI","g":"a","x":600,"p7":500},
{"k":"l","s":"LZSI","g":"a","x":4000,"p7":3880},
{"k":"l","s":"DS","g":"a","x":500,"p7":430},
{"k":"l","s":"DS","g":"a","x":4000,"p7":3850},
{"k":"l","s":"lam","g":"a","x":100,"p7":95},
{"k":"l","s":"lam","g":"a","x":4000,"p7":3960},
{"k":"l","s":"lam","g":"b","x":100,"p7":80},
{"k":"l","s":"lam","g":"b","x":4000,"p7":3880},
{"k":"l","s":"lam","g":"c","x":100,"p7":70},
{"k":"l","s":"lam","g":"c","x":4000,"p7":3770},
{"k":"l","s":"lam","g":"d","x":100,"p7":60},
{"k":"l","s":"lam","g":"d","x":4000,"p7":3400},
{"k":"l","s":"lam","g":"e","x":100,"p7":50},
{"k":"l","s":"lam","g":"e","x":4000,"p7":2830},
{"k":"l","s":"lam","g":"f","x":0,"p7":0},
{"k":"l","s":"lam","g":"f","x":4000,"p7":1860},
{"k":"l","s":"lam","g":"g","x":0,"p7":0},
{"k":"l","s":"lam","g":"g","x":4000,"p7":790},
{"k":"l","s":"lam","g":"h","x":0,"p7":0},
{"k":"l","s":"lam","g":"h","x":4000,"p7":400},
{"k":"l","s":"lam","g":"i","x":0,"p7":0},
{"k":"l","s":"lam","g":"i","x":4000,"p7":200},
{"k":"l","s":"lam","g":"j","x":0,"p7":0},
{"k":"l","s":"lam","g":"j","x":4000,"p7":80},
{"k":"t","t":"50","x":3880,"p7":3841},
{"k":"t","t":"10","x":3807,"p7":3696},
{"k":"t","t":"5","x":3720,"p7":3504},
{"k":"t","t":"2","x":3807,"p7":3233},
{"k":"t","t":"1","x":3807,"p7":2696},
{"k":"t","t":"0.5","x":3807,"p7":1770},
{"k":"t","t":"0.2","x":3807,"p7":752},
{"k":"t","t":"0.1","x":3807,"p7":381},

{"s":"CyB","g":"a","x":0,"p8":0,"lo":0},
{"s":"CyB","g":"a","x":370,"p8":370,"lo":0},
{"s":"CyB","g":"b","x":370,"p8":250,"lo":0},
{"s":"CyB","g":"b","x":400,"p8":110,"lo":0},
{"s":"CyB","g":"b","x":548,"p8":30,"lo":0},
{"s":"CyB","g":"c","x":370,"p8":370,"lo":250},
{"s":"CyB","g":"c","x":550,"p8":550,"lo":470},
{"s":"CyB","g":"c","x":2000,"p8":2000,"lo":1920},
{"s":"CyB","g":"c","x":4000,"p8":4000,"lo":3860},
{"s":"Pink","g":"a","x":519,"p8":159,"lo":100},
{"s":"Pink","g":"a","x":600,"p8":200,"lo":50},
{"s":"Pink","g":"a","x":700,"p8":260,"lo":20},
{"s":"Pink","g":"a","x":800,"p8":300,"lo":0},
{"s":"Pink","g":"a","x":1111,"p8":400,"lo":0},
{"s":"Pink","g":"a","x":2500,"p8":1032,"lo":0},
{"s":"Pink","g":"a","x":4000,"p8":1715,"lo":0},
{"s":"CyA","g":"a","x":0,"p8":0,"lo":0},
{"s":"CyA","g":"a","x":289,"p8":289,"lo":0},
{"s":"CyA","g":"b","x":289,"p8":159,"lo":0},
{"s":"CyA","g":"b","x":400,"p8":11,"lo":0},
{"s":"CyA","g":"c","x":289,"p8":289,"lo":159},
{"s":"CyA","g":"c","x":330,"p8":330,"lo":300},
{"s":"CyA","g":"c","x":500,"p8":500,"lo":460},
{"s":"CyA","g":"c","x":2000,"p8":2000,"lo":1950},
{"s":"CyA","g":"c","x":4000,"p8":4000,"lo":3900},
{"s":"Grn","g":"a","x":593,"p8":207,"lo":196},
{"s":"Grn","g":"a","x":700,"p8":255,"lo":196},
{"s":"Grn","g":"a","x":815,"p8":300,"lo":196},
{"s":"Grn","g":"a","x":889,"p8":300,"lo":196},
{"s":"Grn","g":"a","x":950,"p8":292,"lo":230},
{"s":"Grn","g":"a","x":981,"p8":280,"lo":270},
{"k":"l","s":"Planck","g":"a","x":519,"p8":159},
{"k":"l","s":"Planck","g":"a","x":700,"p8":260},
{"k":"l","s":"Planck","g":"a","x":1111,"p8":400},
{"k":"l","s":"Planck","g":"a","x":2500,"p8":1032},
{"k":"l","s":"Planck","g":"a","x":4000,"p8":1715},
{"k":"l","s":"Planck","g":"b","x":500,"p8":6},
{"k":"l","s":"Planck","g":"b","x":4000,"p8":6},
{"k":"l","s":"AMS","g":"a","x":593,"p8":196},
{"k":"l","s":"AMS","g":"a","x":889,"p8":196},
{"k":"l","s":"AMS","g":"a","x":950,"p8":230},
{"k":"l","s":"AMS","g":"a","x":981,"p8":270},
{"k":"l","s":"AMS","g":"a","x":981,"p8":280},
{"k":"l","s":"AMS","g":"a","x":950,"p8":292},
{"k":"l","s":"AMS","g":"a","x":815,"p8":300},
{"k":"l","s":"AMS","g":"a","x":700,"p8":255},
{"k":"l","s":"AMS","g":"a","x":593,"p8":207},
{"k":"l","s":"AMS","g":"a","x":593,"p8":196},
{"k":"l","s":"NF","g":"a","x":370,"p8":50},
{"k":"l","s":"NF","g":"a","x":481,"p8":104},
{"k":"l","s":"NF","g":"a","x":704,"p8":196},
{"k":"l","s":"NF","g":"a","x":704,"p8":344},
{"k":"l","s":"NF","g":"a","x":800,"p8":500},
{"k":"l","s":"NF","g":"a","x":1037,"p8":752},
{"k":"l","s":"NF","g":"a","x":1778,"p8":1567},
{"k":"l","s":"NF","g":"a","x":4000,"p8":3810},
{"k":"l","s":"P500","g":"a","x":481,"p8":48},
{"k":"l","s":"P500","g":"a","x":800,"p8":60},
{"k":"l","s":"P500","g":"a","x":1037,"p8":159},
{"k":"l","s":"P500","g":"a","x":1093,"p8":381},
{"k":"l","s":"P500","g":"a","x":1056,"p8":604},
{"k":"l","s":"P500","g":"a","x":1185,"p8":900},
{"k":"l","s":"P500","g":"a","x":2148,"p8":2011},
{"k":"l","s":"P500","g":"a","x":4000,"p8":3733},
{"k":"l","s":"PICO","g":"a","x":400,"p8":11},
{"k":"l","s":"PICO","g":"a","x":289,"p8":159},
{"k":"l","s":"PICO","g":"a","x":330,"p8":300},
{"k":"l","s":"PICO","g":"a","x":500,"p8":460},
{"k":"l","s":"PICO","g":"a","x":2000,"p8":1950},
{"k":"l","s":"PICO","g":"a","x":4000,"p8":3900},
{"k":"l","s":"LZSD","g":"a","x":548,"p8":30},
{"k":"l","s":"LZSD","g":"a","x":400,"p8":110},
{"k":"l","s":"LZSD","g":"a","x":370,"p8":250},
{"k":"l","s":"LZSD","g":"a","x":550,"p8":470},
{"k":"l","s":"LZSD","g":"a","x":2000,"p8":1920},
{"k":"l","s":"LZSD","g":"a","x":4000,"p8":3860},
{"k":"l","s":"LZSI","g":"a","x":600,"p8":520},
{"k":"l","s":"LZSI","g":"a","x":4000,"p8":3890},
{"k":"l","s":"DS","g":"a","x":500,"p8":440},
{"k":"l","s":"DS","g":"a","x":4000,"p8":3850},
{"k":"l","s":"lam","g":"a","x":100,"p8":95},
{"k":"l","s":"lam","g":"a","x":4000,"p8":3960},
{"k":"l","s":"lam","g":"b","x":100,"p8":80},
{"k":"l","s":"lam","g":"b","x":4000,"p8":3740},
{"k":"l","s":"lam","g":"c","x":100,"p8":70},
{"k":"l","s":"lam","g":"c","x":4000,"p8":3480},
{"k":"l","s":"lam","g":"d","x":100,"p8":50},
{"k":"l","s":"lam","g":"d","x":4000,"p8":2700},
{"k":"l","s":"lam","g":"e","x":0,"p8":0},
{"k":"l","s":"lam","g":"e","x":4000,"p8":1712},
{"k":"l","s":"lam","g":"f","x":0,"p8":0},
{"k":"l","s":"lam","g":"f","x":4000,"p8":891},
{"k":"l","s":"lam","g":"g","x":0,"p8":0},
{"k":"l","s":"lam","g":"g","x":4000,"p8":363},
{"k":"l","s":"lam","g":"h","x":0,"p8":0},
{"k":"l","s":"lam","g":"h","x":4000,"p8":188},
{"k":"l","s":"lam","g":"i","x":0,"p8":0},
{"k":"l","s":"lam","g":"i","x":4000,"p8":110},
{"k":"l","s":"lam","g":"j","x":0,"p8":0},
{"k":"l","s":"lam","g":"j","x":4000,"p8":60},
{"k":"t","t":"50","x":3789,"p8":3752},
{"k":"t","t":"10","x":3789,"p8":3548},
{"k":"t","t":"5","x":3789,"p8":3307},
{"k":"t","t":"2","x":3789,"p8":2567},
{"k":"t","t":"1","x":3789,"p8":1622},
{"k":"t","t":"0.5","x":3789,"p8":844},
{"k":"t","t":"0.2","x":3789,"p8":344},
{"k":"t","t":"0.1","x":3789,"p8":178},

{"s":"CyB","g":"a","x":0,"p9":0,"lo":0},
{"s":"CyB","g":"a","x":380,"p9":380,"lo":0},
{"s":"CyB","g":"b","x":380,"p9":250,"lo":0},
{"s":"CyB","g":"b","x":450,"p9":160,"lo":0},
{"s":"CyB","g":"b","x":800,"p9":100,"lo":0},
{"s":"CyB","g":"b","x":1400,"p9":50,"lo":0},
{"s":"CyB","g":"b","x":2222,"p9":15,"lo":0},
{"s":"CyB","g":"c","x":380,"p9":380,"lo":250},
{"s":"CyB","g":"c","x":430,"p9":430,"lo":360},
{"s":"CyB","g":"c","x":1000,"p9":1000,"lo":900},
{"s":"CyB","g":"c","x":4000,"p9":4000,"lo":3870},
{"s":"Pink","g":"a","x":1037,"p9":178,"lo":120},
{"s":"Pink","g":"a","x":1200,"p9":190,"lo":50},
{"s":"Pink","g":"a","x":1407,"p9":215,"lo":20},
{"s":"Pink","g":"a","x":1778,"p9":307,"lo":10},
{"s":"Pink","g":"a","x":2148,"p9":456,"lo":0},
{"s":"Pink","g":"a","x":2519,"p9":641,"lo":0},
{"s":"Pink","g":"a","x":2889,"p9":826,"lo":0},
{"s":"Pink","g":"a","x":3150,"p9":985,"lo":0},
{"s":"Pink","g":"a","x":3437,"p9":1196,"lo":0},
{"s":"Pink","g":"a","x":3720,"p9":1450,"lo":0},
{"s":"Pink","g":"a","x":4000,"p9":1733,"lo":0},
{"s":"CyA","g":"a","x":0,"p9":0,"lo":0},
{"s":"CyA","g":"a","x":330,"p9":330,"lo":0},
{"s":"CyA","g":"b","x":330,"p9":200,"lo":0},
{"s":"CyA","g":"b","x":500,"p9":100,"lo":0},
{"s":"CyA","g":"b","x":900,"p9":50,"lo":0},
{"s":"CyA","g":"b","x":1400,"p9":15,"lo":0},
{"s":"CyA","g":"c","x":330,"p9":330,"lo":200},
{"s":"CyA","g":"c","x":360,"p9":360,"lo":320},
{"s":"CyA","g":"c","x":1000,"p9":1000,"lo":950},
{"s":"CyA","g":"c","x":4000,"p9":4000,"lo":3900},
{"s":"Grn","g":"a","x":1074,"p9":210,"lo":196},
{"s":"Grn","g":"a","x":1300,"p9":270,"lo":196},
{"s":"Grn","g":"a","x":1481,"p9":307,"lo":196},
{"s":"Grn","g":"a","x":1630,"p9":400,"lo":196},
{"s":"Grn","g":"a","x":1963,"p9":480,"lo":196},
{"s":"Grn","g":"a","x":2148,"p9":522,"lo":326},
{"s":"Grn","g":"a","x":2444,"p9":696,"lo":390},
{"s":"Grn","g":"a","x":2519,"p9":720,"lo":530},
{"s":"Grn","g":"a","x":2815,"p9":789,"lo":680},
{"s":"Grn","g":"a","x":2852,"p9":790,"lo":696},
{"k":"l","s":"Planck","g":"a","x":1037,"p9":178},
{"k":"l","s":"Planck","g":"a","x":1407,"p9":215},
{"k":"l","s":"Planck","g":"a","x":1778,"p9":307},
{"k":"l","s":"Planck","g":"a","x":2148,"p9":456},
{"k":"l","s":"Planck","g":"a","x":2519,"p9":641},
{"k":"l","s":"Planck","g":"a","x":2889,"p9":826},
{"k":"l","s":"Planck","g":"a","x":3150,"p9":985},
{"k":"l","s":"Planck","g":"a","x":3437,"p9":1196},
{"k":"l","s":"Planck","g":"a","x":3720,"p9":1450},
{"k":"l","s":"Planck","g":"a","x":4000,"p9":1733},
{"k":"l","s":"Planck","g":"b","x":1037,"p9":6},
{"k":"l","s":"Planck","g":"b","x":4000,"p9":6},
{"k":"l","s":"AMS","g":"a","x":1074,"p9":196},
{"k":"l","s":"AMS","g":"a","x":1963,"p9":196},
{"k":"l","s":"AMS","g":"a","x":2130,"p9":326},
{"k":"l","s":"AMS","g":"a","x":2481,"p9":400},
{"k":"l","s":"AMS","g":"a","x":2519,"p9":530},
{"k":"l","s":"AMS","g":"a","x":2852,"p9":696},
{"k":"l","s":"AMS","g":"a","x":2852,"p9":790},
{"k":"l","s":"AMS","g":"a","x":2815,"p9":789},
{"k":"l","s":"AMS","g":"a","x":2444,"p9":696},
{"k":"l","s":"AMS","g":"a","x":2148,"p9":522},
{"k":"l","s":"AMS","g":"a","x":1630,"p9":400},
{"k":"l","s":"AMS","g":"a","x":1481,"p9":307},
{"k":"l","s":"AMS","g":"a","x":1093,"p9":233},
{"k":"l","s":"AMS","g":"a","x":1074,"p9":210},
{"k":"l","s":"AMS","g":"a","x":1074,"p9":196},
{"k":"l","s":"NF","g":"a","x":4000,"p9":56},
{"k":"l","s":"NF","g":"a","x":2519,"p9":78},
{"k":"l","s":"NF","g":"a","x":1407,"p9":122},
{"k":"l","s":"NF","g":"a","x":900,"p9":180},
{"k":"l","s":"NF","g":"a","x":778,"p9":233},
{"k":"l","s":"NF","g":"a","x":685,"p9":381},
{"k":"l","s":"NF","g":"a","x":720,"p9":560},
{"k":"l","s":"NF","g":"a","x":1037,"p9":863},
{"k":"l","s":"NF","g":"a","x":1778,"p9":1678},
{"k":"l","s":"NF","g":"a","x":4000,"p9":3826},
{"k":"l","s":"P500","g":"a","x":2519,"p9":30},
{"k":"l","s":"P500","g":"a","x":2296,"p9":159},
{"k":"l","s":"P500","g":"a","x":2074,"p9":270},
{"k":"l","s":"P500","g":"a","x":1926,"p9":381},
{"k":"l","s":"P500","g":"a","x":1593,"p9":400},
{"k":"l","s":"P500","g":"a","x":1148,"p9":437},
{"k":"l","s":"P500","g":"a","x":1019,"p9":511},
{"k":"l","s":"P500","g":"a","x":1000,"p9":622},
{"k":"l","s":"P500","g":"a","x":1148,"p9":863},
{"k":"l","s":"P500","g":"a","x":1778,"p9":1604},
{"k":"l","s":"P500","g":"a","x":4000,"p9":3733},
{"k":"l","s":"PICO","g":"a","x":1400,"p9":15},
{"k":"l","s":"PICO","g":"a","x":900,"p9":50},
{"k":"l","s":"PICO","g":"a","x":500,"p9":100},
{"k":"l","s":"PICO","g":"a","x":330,"p9":200},
{"k":"l","s":"PICO","g":"a","x":360,"p9":320},
{"k":"l","s":"PICO","g":"a","x":1000,"p9":950},
{"k":"l","s":"PICO","g":"a","x":4000,"p9":3900},
{"k":"l","s":"LZSD","g":"a","x":2222,"p9":15},
{"k":"l","s":"LZSD","g":"a","x":1400,"p9":50},
{"k":"l","s":"LZSD","g":"a","x":800,"p9":100},
{"k":"l","s":"LZSD","g":"a","x":450,"p9":160},
{"k":"l","s":"LZSD","g":"a","x":380,"p9":250},
{"k":"l","s":"LZSD","g":"a","x":430,"p9":360},
{"k":"l","s":"LZSD","g":"a","x":1000,"p9":900},
{"k":"l","s":"LZSD","g":"a","x":4000,"p9":3870},
{"k":"l","s":"LZSI","g":"a","x":600,"p9":520},
{"k":"l","s":"LZSI","g":"a","x":4000,"p9":3890},
{"k":"l","s":"DS","g":"a","x":500,"p9":440},
{"k":"l","s":"DS","g":"a","x":4000,"p9":3850},
{"k":"l","s":"lam","g":"a","x":100,"p9":90},
{"k":"l","s":"lam","g":"a","x":4000,"p9":3930},
{"k":"l","s":"lam","g":"b","x":200,"p9":150},
{"k":"l","s":"lam","g":"b","x":4000,"p9":3640},
{"k":"l","s":"lam","g":"c","x":300,"p9":150},
{"k":"l","s":"lam","g":"c","x":4000,"p9":2830},
{"k":"l","s":"lam","g":"d","x":700,"p9":150},
{"k":"l","s":"lam","g":"d","x":4000,"p9":1260},
{"k":"l","s":"lam","g":"e","x":1200,"p9":100},
{"k":"l","s":"lam","g":"e","x":4000,"p9":575},
{"k":"t","t":"0.01","x":3760,"p9":3715},
{"k":"t","t":"0.1","x":3790,"p9":3456},
{"k":"t","t":"1","x":3796,"p9":2696},
{"k":"t","t":"10","x":3796,"p9":1196},
{"k":"t","t":"50","x":3796,"p9":548}
]},
"repeat":["p1","p2","p3","p4","p5","p6","p7","p8","p9"],
"columns":3,
"spacing":{"row":59,"column":88.8},
"bounds":"flush",
"spec":{
 "width":360,"height":359,
 "layer":[
  {"transform":[{"filter":"datum.k==='tri'"}],"mark":{"type":"area","color":"#e3e3e3"},
   "encoding":{
    "x":{"field":"x","type":"quantitative","scale":{"domain":[0,4000],"nice":false,"zero":false},
         "axis":{"orient":"bottom","values":[0,100,200,300,400,500,600,700,800,900,1000,1100,1200,1300,1400,1500,1600,1700,1800,1900,2000,2100,2200,2300,2400,2500,2600,2700,2800,2900,3000,3100,3200,3300,3400,3500,3600,3700,3800,3900,4000],"format":"d","labelExpr":"datum.value % 500 === 0 && datum.value > 0 ? datum.label : ''","tickSize":{"condition":{"test":"datum.value % 500 === 0","value":-6},"value":-3.5},"tickColor":"#9a9a9a","labelPadding":11.5,"labelFlush":false,"labelOverlap":false,"labelFont":"Liberation Sans","labelFontSize":14,"labelColor":"#000000","domain":false,"grid":false,"title":null}},
    "y":{"field":{"repeat":"repeat"},"type":"quantitative","scale":{"domain":[0,4000],"nice":false,"zero":false},
         "axis":{"orient":"left","values":[0,100,200,300,400,500,600,700,800,900,1000,1100,1200,1300,1400,1500,1600,1700,1800,1900,2000,2100,2200,2300,2400,2500,2600,2700,2800,2900,3000,3100,3200,3300,3400,3500,3600,3700,3800,3900,4000],"format":"d","labelExpr":"datum.value % 500 === 0 && datum.value > 0 ? datum.label : ''","tickSize":{"condition":{"test":"datum.value % 500 === 0","value":-6},"value":-3.5},"tickColor":"#9a9a9a","labelPadding":10,"labelFlush":false,"labelOverlap":false,"labelFont":"Liberation Sans","labelFontSize":14,"labelColor":"#000000","domain":false,"grid":false,"title":null}},
    "y2":{"datum":4000}}},
  {"transform":[{"filter":"datum.s==='Yel'"}],"mark":{"type":"area","color":"#fffbcf","clip":true},"encoding":{"x":{"field":"x","type":"quantitative","scale":{"domain":[0,4000],"nice":false,"zero":false},"axis":null},"y":{"field":{"repeat":"repeat"},"type":"quantitative","scale":{"domain":[0,4000],"nice":false,"zero":false},"axis":null},"y2":{"field":"lo"},"detail":{"field":"g"}}},
  {"transform":[{"filter":"datum.s==='CyB'"}],"mark":{"type":"area","color":"#e6f5fb","clip":true},"encoding":{"x":{"field":"x","type":"quantitative","scale":{"domain":[0,4000],"nice":false,"zero":false},"axis":null},"y":{"field":{"repeat":"repeat"},"type":"quantitative","scale":{"domain":[0,4000],"nice":false,"zero":false},"axis":null},"y2":{"field":"lo"},"detail":{"field":"g"}}},
  {"transform":[{"filter":"datum.s==='Pink'"}],"mark":{"type":"area","color":"#fdf0fc","clip":true},"encoding":{"x":{"field":"x","type":"quantitative","scale":{"domain":[0,4000],"nice":false,"zero":false},"axis":null},"y":{"field":{"repeat":"repeat"},"type":"quantitative","scale":{"domain":[0,4000],"nice":false,"zero":false},"axis":null},"y2":{"field":"lo"},"detail":{"field":"g"}}},
  {"transform":[{"filter":"datum.s==='CyA'"}],"mark":{"type":"area","color":"#cff9f8","clip":true},"encoding":{"x":{"field":"x","type":"quantitative","scale":{"domain":[0,4000],"nice":false,"zero":false},"axis":null},"y":{"field":{"repeat":"repeat"},"type":"quantitative","scale":{"domain":[0,4000],"nice":false,"zero":false},"axis":null},"y2":{"field":"lo"},"detail":{"field":"g"}}},
  {"transform":[{"filter":"datum.s==='Grn'"}],"mark":{"type":"area","color":"#d3e5cd","clip":true},"encoding":{"x":{"field":"x","type":"quantitative","scale":{"domain":[0,4000],"nice":false,"zero":false},"axis":null},"y":{"field":{"repeat":"repeat"},"type":"quantitative","scale":{"domain":[0,4000],"nice":false,"zero":false},"axis":null},"y2":{"field":"lo"},"detail":{"field":"g"}}},
  {"transform":[{"filter":"datum.k==='l'"}],"mark":{"type":"line","clip":true},
   "encoding":{
    "x":{"field":"x","type":"quantitative","scale":{"domain":[0,4000],"nice":false,"zero":false},"axis":null},
    "y":{"field":{"repeat":"repeat"},"type":"quantitative","scale":{"domain":[0,4000],"nice":false,"zero":false},"axis":null},
    "color":{"field":"s","type":"nominal","legend":null,"scale":{"domain":["blk","gry","lam","Planck","PlanckL","LZSI","DS","CR","NF","LZSD","PICO","P500","HESS","Fermi","FermiL","AMS","CTA"],"range":["#000000","#8a8a8a","#7c7c7c","#ff00ff","#c8a4ec","#aca800","#8a8a1e","#6b6b24","#d6d000","#1cc2c2","#128a8a","#1fc5d8","#1fbb1f","#399a39","#b4da9a","#1a5c1a","#22cc22"]}},
    "strokeDash":{"field":"s","type":"nominal","legend":null,"scale":{"domain":["Planck","PlanckL","LZSI","DS","CR","NF","LZSD","PICO","P500","HESS","Fermi","FermiL","AMS","CTA","lam"],"range":[[1,0],[1,0],[1,0],[1,0],[1,0],[1.3,1.5],[1,0],[1,0],[3,2],[1,0],[1,0],[1,0],[1,0],[2,1.4],[1,2.6]]}},
    "strokeWidth":{"field":"s","type":"nominal","legend":null,"scale":{"type":"ordinal","domain":["Planck","PlanckL","LZSI","DS","NF","LZSD","PICO","P500","FermiL","AMS","lam"],"range":[1.6,1.3,1.5,1.3,1.4,1.6,1.6,1.6,1.3,1.5,1.2]}},
    "detail":{"field":"g"},
    "order":{"value":null}}},
  {"transform":[{"filter":"datum.k==='t'"}],"mark":{"type":"text","font":"Liberation Sans","fontSize":11,"color":"#7a7a7a","align":"center","baseline":"middle"},"encoding":{"x":{"field":"x","type":"quantitative","scale":{"domain":[0,4000],"nice":false,"zero":false},"axis":null},"y":{"field":{"repeat":"repeat"},"type":"quantitative","scale":{"domain":[0,4000],"nice":false,"zero":false},"axis":null},"text":{"field":"t"}}},
  {"transform":[{"filter":"datum.k==='tri'"}],"mark":{"type":"line","color":"#000000","strokeWidth":2.5,"clip":true},
   "encoding":{
    "x":{"field":"x","type":"quantitative","scale":{"domain":[0,4000],"nice":false,"zero":false},
         "axis":{"orient":"top","values":[0,100,200,300,400,500,600,700,800,900,1000,1100,1200,1300,1400,1500,1600,1700,1800,1900,2000,2100,2200,2300,2400,2500,2600,2700,2800,2900,3000,3100,3200,3300,3400,3500,3600,3700,3800,3900,4000],"labels":false,"tickSize":{"condition":{"test":"datum.value % 500 === 0","value":-6},"value":-3.5},"tickColor":"#9a9a9a","domain":false,"grid":false,"title":null}},
    "y":{"field":{"repeat":"repeat"},"type":"quantitative","scale":{"domain":[0,4000],"nice":false,"zero":false},
         "axis":{"orient":"right","values":[0,100,200,300,400,500,600,700,800,900,1000,1100,1200,1300,1400,1500,1600,1700,1800,1900,2000,2100,2200,2300,2400,2500,2600,2700,2800,2900,3000,3100,3200,3300,3400,3500,3600,3700,3800,3900,4000],"labels":false,"tickSize":{"condition":{"test":"datum.value % 500 === 0","value":-6},"value":-3.5},"tickColor":"#9a9a9a","domain":false,"grid":false,"title":null}}}},
  {"transform":[{"filter":"datum.k==='box'"}],"mark":{"type":"rect","fill":"#ffffff","stroke":"#000000","strokeWidth":2},"encoding":{"x":{"field":"x","type":"quantitative","scale":{"domain":[0,4000],"nice":false,"zero":false},"axis":null},"y":{"field":{"repeat":"repeat"},"type":"quantitative","scale":{"domain":[0,4000],"nice":false,"zero":false},"axis":null},"x2":{"field":"x2"},"y2":{"field":"lo"}}},
  {"transform":[{"filter":"datum.k==='lq'"}],"mark":{"type":"point","shape":"square","size":62,"filled":true,"strokeWidth":1.5,"opacity":1},
   "encoding":{
    "x":{"field":"x","type":"quantitative","scale":{"domain":[0,4000],"nice":false,"zero":false},"axis":null},
    "y":{"field":{"repeat":"repeat"},"type":"quantitative","scale":{"domain":[0,4000],"nice":false,"zero":false},"axis":null},
    "stroke":{"field":"c","type":"nominal","legend":null,"scale":{"domain":["Planck","LZSI","DS","CR","NF","LZSD","PICO","P500","HESS","Fermi","AMS","CTA"],"range":["#ff00ff","#c8c000","#9a9a2a","#6b6b24","#dcd660","#22c4c4","#178c8c","#22c6d8","#22bb22","#3a9a3a","#1b5e1b","#22cc22"]}},
    "fill":{"field":"c","type":"nominal","legend":null,"scale":{"domain":["Planck","LZSI","DS","CR","NF","LZSD","PICO","P500","HESS","Fermi","AMS","CTA"],"range":["#ffffff","#ffffff","#ecebc6","#cfcdb0","#ffffff","#ffffff","#d0ecec","#ffffff","#ffffff","#d4eed0","#c0d6c0","#ffffff"]}},
    "strokeDash":{"field":"c","type":"nominal","legend":null,"scale":{"domain":["Planck","PlanckL","LZSI","DS","CR","NF","LZSD","PICO","P500","HESS","Fermi","FermiL","AMS","CTA","lam"],"range":[[1,0],[1,0],[1,0],[1,0],[1,0],[1.3,1.5],[1,0],[1,0],[3,2],[1,0],[1,0],[1,0],[1,0],[2,1.4],[1,2.6]]}}}},
  {"transform":[{"filter":"datum.k==='lt'"}],"mark":{"type":"text","font":"Liberation Sans","fontSize":12.8,"align":"left","baseline":"middle"},
   "encoding":{"x":{"field":"x","type":"quantitative","scale":{"domain":[0,4000],"nice":false,"zero":false},"axis":null},"y":{"field":{"repeat":"repeat"},"type":"quantitative","scale":{"domain":[0,4000],"nice":false,"zero":false},"axis":null},"text":{"field":"t"},"color":{"field":"c","type":"nominal","legend":null,"scale":{"domain":["blk","gry","lam","Planck","PlanckL","LZSI","DS","CR","NF","LZSD","PICO","P500","HESS","Fermi","FermiL","AMS","CTA"],"range":["#000000","#8a8a8a","#7c7c7c","#ff00ff","#c8a4ec","#aca800","#8a8a1e","#6b6b24","#d6d000","#1cc2c2","#128a8a","#1fc5d8","#1fbb1f","#399a39","#b4da9a","#1a5c1a","#22cc22"]}}}},
  {"transform":[{"filter":"datum.f==='b'"}],"mark":{"type":"text","font":"Liberation Sans","fontSize":12.5,"fontWeight":"bold","align":"left","baseline":"middle","color":"#000000"},"encoding":{"x":{"field":"x","type":"quantitative","scale":{"domain":[0,4000],"nice":false,"zero":false},"axis":null},"y":{"field":{"repeat":"repeat"},"type":"quantitative","scale":{"domain":[0,4000],"nice":false,"zero":false},"axis":null},"text":{"field":"t"}}},
  {"transform":[{"filter":"datum.f==='bi'"}],"mark":{"type":"text","font":"Liberation Sans","fontSize":12.5,"fontWeight":"bold","fontStyle":"italic","align":"left","baseline":"middle","color":"#000000"},"encoding":{"x":{"field":"x","type":"quantitative","scale":{"domain":[0,4000],"nice":false,"zero":false},"axis":null},"y":{"field":{"repeat":"repeat"},"type":"quantitative","scale":{"domain":[0,4000],"nice":false,"zero":false},"axis":null},"text":{"field":"t"}}},
  {"transform":[{"filter":"datum.f==='bs'"}],"mark":{"type":"text","font":"Liberation Sans","fontSize":9,"fontWeight":"bold","fontStyle":"italic","align":"left","baseline":"middle","dy":3,"color":"#000000"},"encoding":{"x":{"field":"x","type":"quantitative","scale":{"domain":[0,4000],"nice":false,"zero":false},"axis":null},"y":{"field":{"repeat":"repeat"},"type":"quantitative","scale":{"domain":[0,4000],"nice":false,"zero":false},"axis":null},"text":{"field":"t"}}},
  {"transform":[{"filter":"datum.f==='n'"}],"mark":{"type":"text","font":"Liberation Sans","fontSize":12.5,"align":"left","baseline":"middle"},
   "encoding":{"x":{"field":"x","type":"quantitative","scale":{"domain":[0,4000],"nice":false,"zero":false},"axis":null},"y":{"field":{"repeat":"repeat"},"type":"quantitative","scale":{"domain":[0,4000],"nice":false,"zero":false},"axis":null},"text":{"field":"t"},"color":{"field":"c","type":"nominal","legend":null,"scale":{"domain":["blk","gry","lam","Planck","PlanckL","LZSI","DS","CR","NF","LZSD","PICO","P500","HESS","Fermi","FermiL","AMS","CTA"],"range":["#000000","#8a8a8a","#7c7c7c","#ff00ff","#c8a4ec","#aca800","#8a8a1e","#6b6b24","#d6d000","#1cc2c2","#128a8a","#1fc5d8","#1fbb1f","#399a39","#b4da9a","#1a5c1a","#22cc22"]}}}},
  {"transform":[{"filter":"datum.f==='i'"}],"mark":{"type":"text","font":"Liberation Sans","fontSize":12.5,"fontStyle":"italic","align":"left","baseline":"middle"},
   "encoding":{"x":{"field":"x","type":"quantitative","scale":{"domain":[0,4000],"nice":false,"zero":false},"axis":null},"y":{"field":{"repeat":"repeat"},"type":"quantitative","scale":{"domain":[0,4000],"nice":false,"zero":false},"axis":null},"text":{"field":"t"},"color":{"field":"c","type":"nominal","legend":null,"scale":{"domain":["blk","gry","lam","Planck","PlanckL","LZSI","DS","CR","NF","LZSD","PICO","P500","HESS","Fermi","FermiL","AMS","CTA"],"range":["#000000","#8a8a8a","#7c7c7c","#ff00ff","#c8a4ec","#aca800","#8a8a1e","#6b6b24","#d6d000","#1cc2c2","#128a8a","#1fc5d8","#1fbb1f","#399a39","#b4da9a","#1a5c1a","#22cc22"]}}}},
  {"transform":[{"filter":"datum.f==='s'"}],"mark":{"type":"text","font":"Liberation Sans","fontSize":9,"align":"left","baseline":"middle","dy":3},
   "encoding":{"x":{"field":"x","type":"quantitative","scale":{"domain":[0,4000],"nice":false,"zero":false},"axis":null},"y":{"field":{"repeat":"repeat"},"type":"quantitative","scale":{"domain":[0,4000],"nice":false,"zero":false},"axis":null},"text":{"field":"t"},"color":{"field":"c","type":"nominal","legend":null,"scale":{"domain":["blk","gry","lam","Planck","PlanckL","LZSI","DS","CR","NF","LZSD","PICO","P500","HESS","Fermi","FermiL","AMS","CTA"],"range":["#000000","#8a8a8a","#7c7c7c","#ff00ff","#c8a4ec","#aca800","#8a8a1e","#6b6b24","#d6d000","#1cc2c2","#128a8a","#1fc5d8","#1fbb1f","#399a39","#b4da9a","#1a5c1a","#22cc22"]}}}},
  {"transform":[{"filter":"datum.f==='ai'"}],"mark":{"type":"text","font":"Liberation Sans","fontSize":17.5,"fontStyle":"italic","align":"left","baseline":"middle","color":"#000000"},"encoding":{"x":{"field":"x","type":"quantitative","scale":{"domain":[0,4000],"nice":false,"zero":false},"axis":null},"y":{"field":{"repeat":"repeat"},"type":"quantitative","scale":{"domain":[0,4000],"nice":false,"zero":false},"axis":null},"text":{"field":"t"}}},
  {"transform":[{"filter":"datum.f==='as'"}],"mark":{"type":"text","font":"Liberation Sans","fontSize":12,"align":"left","baseline":"middle","dy":4,"color":"#000000"},"encoding":{"x":{"field":"x","type":"quantitative","scale":{"domain":[0,4000],"nice":false,"zero":false},"axis":null},"y":{"field":{"repeat":"repeat"},"type":"quantitative","scale":{"domain":[0,4000],"nice":false,"zero":false},"axis":null},"text":{"field":"t"}}},
  {"transform":[{"filter":"datum.f==='an'"}],"mark":{"type":"text","font":"Liberation Sans","fontSize":17.5,"align":"left","baseline":"middle","color":"#000000"},"encoding":{"x":{"field":"x","type":"quantitative","scale":{"domain":[0,4000],"nice":false,"zero":false},"axis":null},"y":{"field":{"repeat":"repeat"},"type":"quantitative","scale":{"domain":[0,4000],"nice":false,"zero":false},"axis":null},"text":{"field":"t"}}},
  {"transform":[{"filter":"datum.f==='yi'"}],"mark":{"type":"text","font":"Liberation Sans","fontSize":17.5,"fontStyle":"italic","align":"left","baseline":"middle","angle":270,"color":"#000000"},"encoding":{"x":{"field":"x","type":"quantitative","scale":{"domain":[0,4000],"nice":false,"zero":false},"axis":null},"y":{"field":{"repeat":"repeat"},"type":"quantitative","scale":{"domain":[0,4000],"nice":false,"zero":false},"axis":null},"text":{"field":"t"}}},
  {"transform":[{"filter":"datum.f==='ys'"}],"mark":{"type":"text","font":"Liberation Sans","fontSize":12,"align":"left","baseline":"middle","angle":270,"dy":4,"color":"#000000"},"encoding":{"x":{"field":"x","type":"quantitative","scale":{"domain":[0,4000],"nice":false,"zero":false},"axis":null},"y":{"field":{"repeat":"repeat"},"type":"quantitative","scale":{"domain":[0,4000],"nice":false,"zero":false},"axis":null},"text":{"field":"t"}}},
  {"transform":[{"filter":"datum.f==='yn'"}],"mark":{"type":"text","font":"Liberation Sans","fontSize":17.5,"align":"left","baseline":"middle","angle":270,"color":"#000000"},"encoding":{"x":{"field":"x","type":"quantitative","scale":{"domain":[0,4000],"nice":false,"zero":false},"axis":null},"y":{"field":{"repeat":"repeat"},"type":"quantitative","scale":{"domain":[0,4000],"nice":false,"zero":false},"axis":null},"text":{"field":"t"}}}
 ],
 "resolve":{"axis":{"x":"independent","y":"independent"}}
}
}
